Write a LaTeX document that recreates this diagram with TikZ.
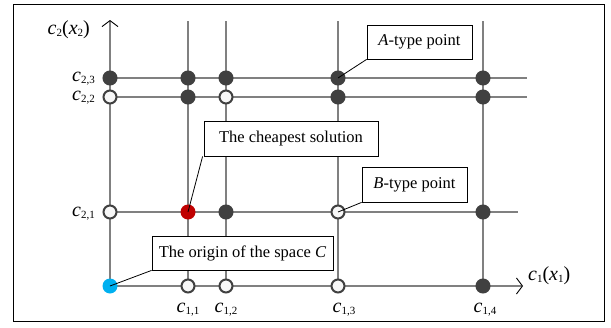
\documentclass[tikz,border=0pt]{standalone}
\usepackage{fontspec}
\setmainfont{Liberation Serif}
\usetikzlibrary{arrows.meta}
\definecolor{gridc}{RGB}{128,128,128}
\definecolor{darkpt}{RGB}{64,64,64}
\definecolor{redpt}{RGB}{192,0,0}
\definecolor{cyanpt}{RGB}{0,176,240}
\newcommand\subx[1]{\raisebox{-0.25ex}{\fontsize{11}{11}\selectfont #1}}
\newcommand\cs[2]{\textit{#1}\subx{#2}}
\tikzset{
  gridline/.style={draw=gridc, line width=1.3pt},
  axisline/.style={gridline, -{Straight Barb[length=6pt, width=16pt, line width=0.9pt, black]}},
  fullpt/.style={circle, inner sep=0pt, minimum size=14pt, fill=darkpt, draw=darkpt, line width=1pt},
  openpt/.style={circle, inner sep=0pt, minimum size=13pt, fill=white!97!black, draw=darkpt, line width=2pt},
  redpoint/.style={circle, inner sep=0pt, minimum size=15pt, fill=redpt},
  cyanpoint/.style={circle, inner sep=0pt, minimum size=15pt, fill=cyanpt},
  callout/.style={draw=black, line width=0.8pt, fill=white, inner sep=0pt, font=\fontsize{16.5}{16.5}\selectfont},
  pointer/.style={draw=black, line width=0.8pt},
  lbl/.style={font=\fontsize{20}{20}\selectfont, inner sep=0pt}
}
\begin{document}
\begin{tikzpicture}[x=1pt, y=-1pt]
\useasboundingbox (0,0) rectangle (611,327);
\draw[line width=1pt] (13,4) rectangle (604,321);
% coordinates
\coordinate (o) at (110,286);
\coordinate (ytip) at (110,20);
\coordinate (xtip) at (523,286);
% vertical grid lines
\foreach \x/\n in {188/a, 226/b, 338/c, 483/d} {
  \coordinate (t\n) at (\x,21);
  \coordinate (b\n) at (\x,286);
  \draw[gridline] (t\n) -- (b\n);
}
% horizontal grid lines
\coordinate (l3) at (110,78); \coordinate (r3) at (527,78);
\coordinate (l2) at (110,97); \coordinate (r2) at (527,97);
\coordinate (l1) at (110,212); \coordinate (r1) at (518,212);
\draw[gridline] (l3) -- (r3);
\draw[gridline] (l2) -- (r2);
\draw[gridline] (l1) -- (r1);
% axes
\draw[axisline] (o) -- (ytip);
\draw[axisline] (o) -- (xtip);
% callouts
\node[callout, minimum width=105pt, minimum height=34pt] (A) at (419.5,42) {\textit{A}-type point};
\node[callout, minimum width=174pt, minimum height=35pt] (cheap) at (291,138.5) {The cheapest solution};
\node[callout, minimum width=105pt, minimum height=35pt] (B) at (414.5,184.5) {\textit{B}-type point};
\node[callout, minimum width=181pt, minimum height=34pt] (orig) at (242.5,253) {The origin of the space \textit{C}};
% points row 3
\node[fullpt] (p13) at (110,78) {};
\node[fullpt] (p23) at (188,78) {};
\node[fullpt] (p33) at (226,78) {};
\node[fullpt] (p43) at (338,78) {};
\node[fullpt] (p53) at (483,78) {};
% row 2
\node[openpt] (p12) at (110,97) {};
\node[fullpt] (p22) at (188,97) {};
\node[openpt] (p32) at (226,97) {};
\node[fullpt] (p42) at (338,97) {};
\node[fullpt] (p52) at (483,97) {};
% row 1
\node[openpt] (p11) at (110,212) {};
\node[redpoint] (p21) at (188,212) {};
\node[fullpt] (p31) at (226,212) {};
\node[openpt] (p41) at (338,212) {};
\node[fullpt] (p51) at (483,212) {};
% row 0
\node[cyanpoint] (p10) at (110,286) {};
\node[openpt] (p20) at (188,286) {};
\node[openpt] (p30) at (226,286) {};
\node[openpt] (p40) at (338,286) {};
\node[fullpt] (p50) at (483,286) {};
% pointers
\draw[pointer] (A.south west) -- (p43.center);
\draw[pointer] ([xshift=-1pt]cheap.south west) -- (p21.center);
\draw[pointer] (B.south west) -- (p41.center);
\draw[pointer] (orig.south west) -- (p10.center);
% labels
\node[lbl, anchor=base east] (ly) at (90,34) {\cs{c}{2}(\textit{x}\subx{2})};
\node[lbl, anchor=base east] (l23) at (95,81) {\cs{c}{2,3}};
\node[lbl, anchor=base east] (l22) at (95,100) {\cs{c}{2,2}};
\node[lbl, anchor=base east] (l21) at (95,216) {\cs{c}{2,1}};
\node[lbl, anchor=base] (l11) at (188,312) {\cs{c}{1,1}};
\node[lbl, anchor=base] (l12) at (226,312) {\cs{c}{1,2}};
\node[lbl, anchor=base] (l13) at (344,312) {\cs{c}{1,3}};
\node[lbl, anchor=base] (l14) at (485,312) {\cs{c}{1,4}};
\node[lbl, anchor=base west] (lx) at (528,280) {\cs{c}{1}(\textit{x}\subx{1})};
\end{tikzpicture}
\end{document}
